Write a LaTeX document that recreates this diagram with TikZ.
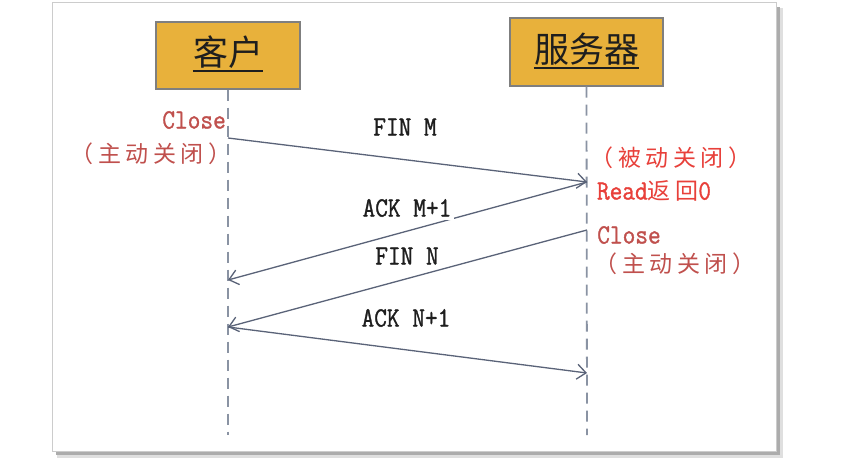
\documentclass[tikz,border=0pt]{standalone}
\usepackage{fontspec}
\usetikzlibrary{arrows.meta}
\newfontfamily\latf[FakeBold=1.1,FakeStretch=0.88]{Latin Modern Mono}
\newfontfamily\cjkf{Noto Sans CJK SC}
\newfontfamily\cjkr[LetterSpace=20]{Noto Sans CJK SC}
\definecolor{boxfill}{HTML}{E8B13B}
\definecolor{boxline}{HTML}{7F7F7F}
\definecolor{msgline}{HTML}{5A6378}
\definecolor{lifeline}{HTML}{8A93A3}
\definecolor{redA}{HTML}{C0504D}
\definecolor{redB}{HTML}{E8403A}
\definecolor{txt}{HTML}{1E1E1E}
\begin{document}
\begin{tikzpicture}[x=1pt,y=-1pt,
  actor/.style={draw=boxline, line width=1.2pt, fill=boxfill, inner sep=0pt},
  actortext/.style={anchor=base, inner sep=0pt, text=txt, font=\cjkf\fontsize{35}{35}\selectfont},
  uline/.style={draw=txt, line width=1.5pt},
  life/.style={draw=lifeline, line width=1.8pt, dash pattern=on 11pt off 7pt},
  msg/.style={draw=msgline, line width=1.3pt, -{Straight Barb[length=9pt,width=15pt]}},
  lbl/.style={fill=white, inner sep=3pt, text=txt, font=\latf\fontsize{28}{28}\selectfont},
  redtxt/.style={inner sep=0pt, font=\latf\fontsize{28}{28}\selectfont},
]
\useasboundingbox (0,0) rectangle (864,476);
% frame with shadow
\fill[gray!25] (57,8) rectangle (783,458);
\fill[gray!65] (56,7) rectangle (780,455);
\draw[gray!40, fill=white, line width=1pt] (52,3) rectangle (776,451);

% actors
\node[actor, minimum width=144pt, minimum height=67pt] (client) at (228,55.5) {};
\node[actor, minimum width=153pt, minimum height=68pt] (server) at (586.5,52) {};
\node[actortext] (ct) at (228,66) {客户};
\node[actortext] (st) at (586.5,63) {服务器};
\draw[uline] ([yshift=-5pt]ct.base west) -- ([yshift=-5pt]ct.base east);
\draw[uline] ([yshift=-5pt]st.base west) -- ([yshift=-5pt]st.base east);

% lifelines
\coordinate (cend) at (228,435);
\coordinate (send) at (587,435);
\draw[life] (client.south) -- (cend);
\draw[life] (server.south) -- (send);

% message points
\coordinate (c1) at (228,138);
\coordinate (s1) at (587,182);
\coordinate (c2) at (228,280);
\coordinate (s2) at (587,230);
\coordinate (c3) at (228,327);
\coordinate (s3) at (587,373);

\draw[msg] (c1) -- (s1);
\draw[msg] (s1) -- (c2);
\draw[msg] (s2) -- (c3);
\draw[msg] (c3) -- (s3);

% message labels
\node[lbl] (l1) at (405,127) {FIN M};
\node[lbl] (l2) at (407,208) {ACK M+1};
\node[lbl] (l3) at (407,256) {FIN N};
\node[lbl] (l4) at (406,318) {ACK N+1};

% red notes
\node[redtxt, text=redA, anchor=east] (cc) at (226,120) {Close};
\node[redtxt, text=redA] (ca) at (151,154) {\cjkr\fontsize{23}{23}\selectfont （主动关闭）};
\node[redtxt, text=redB] (sp) at (671,158) {\cjkr\fontsize{23}{23}\selectfont （被动关闭）};
\node[redtxt, text=redB] (sr) at (654,191) {Read{\cjkr\fontsize{23}{23}\selectfont 返回}0};
\node[redtxt, text=redA] (sc) at (629,235) {Close};
\node[redtxt, text=redA] (sa) at (675,264) {\cjkr\fontsize{23}{23}\selectfont （主动关闭）};
\end{tikzpicture}
\end{document}
